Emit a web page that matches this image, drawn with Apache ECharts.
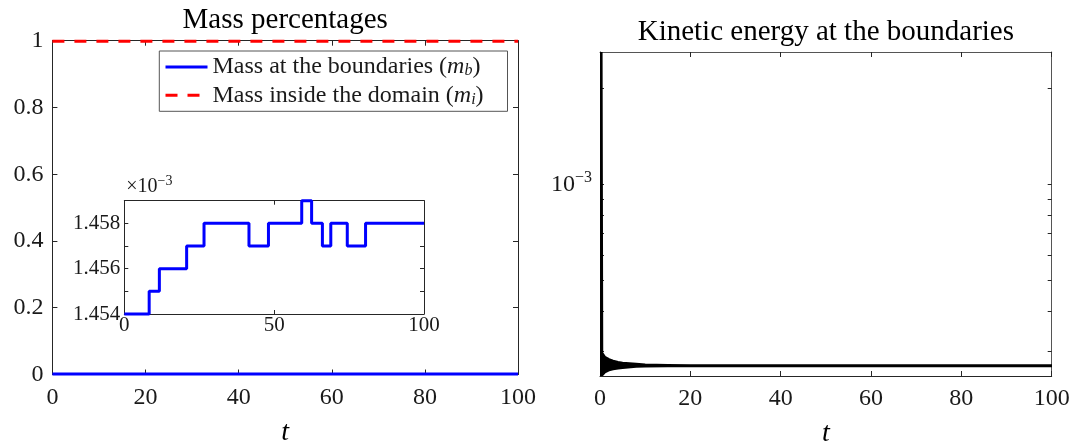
<!DOCTYPE html>
<html>
<head>
<meta charset="utf-8">
<script src="https://cdn.jsdelivr.net/npm/echarts@6/dist/echarts.min.js"></script>
<style>
  html, body { margin: 0; padding: 0; background: #fff; }
  #chart { width: 1079px; height: 441px; }
</style>
</head>
<body>
<div id="chart"></div>
<script>
// Boundary mass m_b (in units of 1e-3): step changes over time t
const mbTimes  = [0, 8.3, 11.7, 20.8, 26.6, 41.6, 48.1, 59.2, 62.5, 66.1, 68.9, 74.4, 80.5, 100];
const mbValues = [1.454, 1.455, 1.456, 1.457, 1.458, 1.457, 1.458, 1.459, 1.458, 1.457, 1.458, 1.457, 1.458, 1.458];
// Mass inside the domain m_i at the same instants
const miValues = [0.998546, 0.998545, 0.998544, 0.998543, 0.998542, 0.998543, 0.998542,
                  0.998541, 0.998542, 0.998543, 0.998542, 0.998543, 0.998542, 0.998542];

// Kinetic energy at the boundaries: envelope of the fast oscillation
const keTimes = [0, 0.35, 0.5, 1.1, 2, 2.9, 4, 5, 8, 10, 15, 20, 100];
const keUpper = [2.60e-3, 2.60e-3, 2.96e-4, 2.88e-4, 2.83e-4, 2.80e-4, 2.775e-4, 2.76e-4, 2.74e-4, 2.725e-4, 2.715e-4, 2.71e-4, 2.71e-4];
const keLower = [2.506e-4, 2.506e-4, 2.52e-4, 2.575e-4, 2.61e-4, 2.63e-4, 2.645e-4, 2.655e-4, 2.68e-4, 2.685e-4, 2.69e-4, 2.69e-4, 2.69e-4];

// Tick values
const massTicks = [0, 0.2, 0.4, 0.6, 0.8, 1];
const keMinorTicks = [3e-4, 4e-4, 5e-4, 6e-4, 7e-4, 8e-4, 9e-4, 1e-3, 2e-3];
const keLabelTicks = [1e-3];

const FONT = 'Liberation Serif';
const AX = '#262626';

const legendText = {
  mb: 'Mass at the boundaries ({it|m}{sub|b})',
  mi: 'Mass inside the domain ({it|m}{sub|i})'
};

function boxAxis(extra) {
  return Object.assign({
    type: 'value',
    splitLine: { show: false },
    axisLine: { show: true, onZero: false, lineStyle: { color: AX, width: 1 } },
    axisTick: { show: true, inside: true, length: 5, lineStyle: { color: AX, width: 1 } },
    axisLabel: { show: false },
    nameTextStyle: { fontFamily: FONT, color: '#000' }
  }, extra);
}

const labelStyle = (size, margin) => ({
  show: true, fontFamily: FONT, fontSize: size, color: '#1a1a1a', margin: margin
});

const grids = [
  { left: 52.4, top: 40.7, width: 465.6, height: 333.8, outerBoundsMode: 'none' },
  { left: 124.3, top: 200.7, width: 299.7, height: 113.3, outerBoundsMode: 'none',
    show: true, backgroundColor: '#fff', borderWidth: 0 },
  { left: 600, top: 52, width: 451.7, height: 324, outerBoundsMode: 'none' }
];

const titleStyle = { fontFamily: FONT, fontSize: 29, color: '#000', verticalAlign: 'bottom' };
const tStyle = { fontFamily: FONT, fontSize: 28, fontStyle: 'italic', color: '#000' };

const xAxes = [
  boxAxis({ gridIndex: 0, position: 'bottom', min: 0, max: 100, interval: 20,
    axisLabel: labelStyle(24, 11),
    name: 't', nameLocation: 'middle', nameGap: 44, nameTextStyle: tStyle }),
  boxAxis({ gridIndex: 0, position: 'top', min: 0, max: 100, interval: 20,
    name: 'Mass percentages', nameLocation: 'middle', nameGap: 6, nameTextStyle: titleStyle }),
  boxAxis({ gridIndex: 1, position: 'bottom', min: 0, max: 100, interval: 50,
    axisTick: { show: true, inside: true, length: 4, lineStyle: { color: AX } },
    axisLabel: labelStyle(21, 1) }),
  boxAxis({ gridIndex: 1, position: 'top', min: 0, max: 100, interval: 50,
    axisTick: { show: true, inside: true, length: 4, lineStyle: { color: AX } } }),
  boxAxis({ gridIndex: 2, position: 'bottom', min: 0, max: 100, interval: 20,
    axisLabel: labelStyle(24, 11),
    name: 't', nameLocation: 'middle', nameGap: 44, nameTextStyle: tStyle }),
  boxAxis({ gridIndex: 2, position: 'top', min: 0, max: 100, interval: 20,
    axisLine: { show: true, onZero: false, lineStyle: { color: '#555', width: 1 } },
    name: 'Kinetic energy at the boundaries', nameLocation: 'middle', nameGap: 5,
    nameTextStyle: titleStyle })
];

const keAxisBase = {
  type: 'log', logBase: 10, min: 2.506e-4, max: 2.6e-3,
  splitLine: { show: false },
  axisLine: { show: true, onZero: false, lineStyle: { color: AX, width: 1 } },
  axisTick: { show: true, inside: true, length: 4, customValues: keMinorTicks, lineStyle: { color: AX } },
  axisLabel: { show: false }
};

const yAxes = [
  boxAxis({ gridIndex: 0, position: 'left', min: 0, max: 1, interval: 0.2,
    axisLabel: Object.assign(labelStyle(24, 9), { customValues: massTicks }) }),
  boxAxis({ gridIndex: 0, position: 'right', min: 0, max: 1, interval: 0.2 }),
  boxAxis({ gridIndex: 1, position: 'left', min: 1.454, max: 1.459, interval: 0.001,
    axisTick: { show: true, inside: true, length: 4, lineStyle: { color: AX } },
    axisLabel: Object.assign(labelStyle(21, 4), {
      formatter: v => (Math.round(v * 1000) % 2 === 0 && v < 1.4585) ? v.toFixed(3) : ''
    }),
    name: '{x|×10}{s|−3}', nameLocation: 'end', nameGap: 2,
    nameTextStyle: {
      align: 'left', verticalAlign: 'bottom', padding: [0, 0, 0, 2],
      rich: {
        x: { fontFamily: FONT, fontSize: 20, color: '#1a1a1a', lineHeight: 24 },
        s: { fontFamily: FONT, fontSize: 14, color: '#1a1a1a', lineHeight: 14, verticalAlign: 'top' }
      }
    } }),
  boxAxis({ gridIndex: 1, position: 'right', min: 1.454, max: 1.459, interval: 0.001,
    axisTick: { show: true, inside: true, length: 4, lineStyle: { color: AX } } }),
  Object.assign({}, keAxisBase, { gridIndex: 2, position: 'left',
    axisLabel: {
      show: true, customValues: keLabelTicks, margin: 8,
      formatter: () => '{b|10}{s|−3}',
      rich: {
        b: { fontFamily: FONT, fontSize: 24, color: '#1a1a1a', lineHeight: 30 },
        s: { fontFamily: FONT, fontSize: 16, color: '#1a1a1a', lineHeight: 14, verticalAlign: 'top' }
      }
    } }),
  Object.assign({}, keAxisBase, { gridIndex: 2, position: 'right',
    axisLine: { show: true, onZero: false, lineStyle: { color: '#555', width: 1 } } })
];

const mbMain = mbTimes.map((t, i) => [t, mbValues[i] * 1e-3]);
const miMain = mbTimes.map((t, i) => [t, miValues[i]]);
const mbInset = mbTimes.map((t, i) => [t, mbValues[i]]);

const option = {
  animation: false,
  backgroundColor: '#fff',
  grid: grids,
  xAxis: xAxes,
  yAxis: yAxes,
  legend: {
    data: ['mb', 'mi'],
    orient: 'vertical',
    left: 159.3, top: 51,
    padding: [4, 8, 4, 4.7],
    itemGap: 4.3,
    itemWidth: 42, itemHeight: 24,
    selectedMode: false,
    borderColor: '#555', borderWidth: 1, borderRadius: 0,
    backgroundColor: '#fff',
    itemStyle: { opacity: 0 },
    lineStyle: { width: 3 },
    formatter: name => legendText[name],
    textStyle: {
      fontFamily: FONT, fontSize: 24, color: '#1a1a1a', width: 287, lineHeight: 24,
      rich: {
        it: { fontFamily: FONT, fontSize: 24, fontStyle: 'italic', color: '#1a1a1a', lineHeight: 24 },
        sub: { fontFamily: FONT, fontSize: 16, fontStyle: 'italic', color: '#1a1a1a', lineHeight: 12, verticalAlign: 'bottom' }
      }
    }
  },
  series: [
    {
      name: 'mb', type: 'line', xAxisIndex: 0, yAxisIndex: 0, step: 'end',
      data: mbMain, symbol: 'none', clip: false,
      itemStyle: { color: '#0000ff' },
      lineStyle: { color: '#0000ff', width: 3 }
    },
    {
      name: 'mi', type: 'line', xAxisIndex: 0, yAxisIndex: 0, step: 'end',
      data: miMain, symbol: 'none', clip: false,
      itemStyle: { color: '#ff0000' },
      lineStyle: { color: '#ff0000', width: 3, type: [12, 10] }
    },
    {
      name: 'mb inset', type: 'line', xAxisIndex: 2, yAxisIndex: 2, step: 'end',
      data: mbInset, symbol: 'none', clip: false,
      lineStyle: { color: '#0000ff', width: 3 }
    },
    {
      name: 'kinetic energy', type: 'custom', xAxisIndex: 4, yAxisIndex: 4,
      data: [[0, 1e-3]], clip: true,
      renderItem: (params, api) => {
        const top = keTimes.map((t, i) => api.coord([t, keUpper[i]]));
        const bottom = keTimes.map((t, i) => api.coord([t, keLower[i]])).reverse();
        return {
          type: 'polygon',
          shape: { points: top.concat(bottom) },
          style: { fill: '#000', stroke: '#000', lineWidth: 2, lineJoin: 'round' }
        };
      }
    }
  ]
};

const chart = echarts.init(document.getElementById('chart'), null, { renderer: 'canvas' });
chart.setOption(option);
</script>
</body>
</html>
